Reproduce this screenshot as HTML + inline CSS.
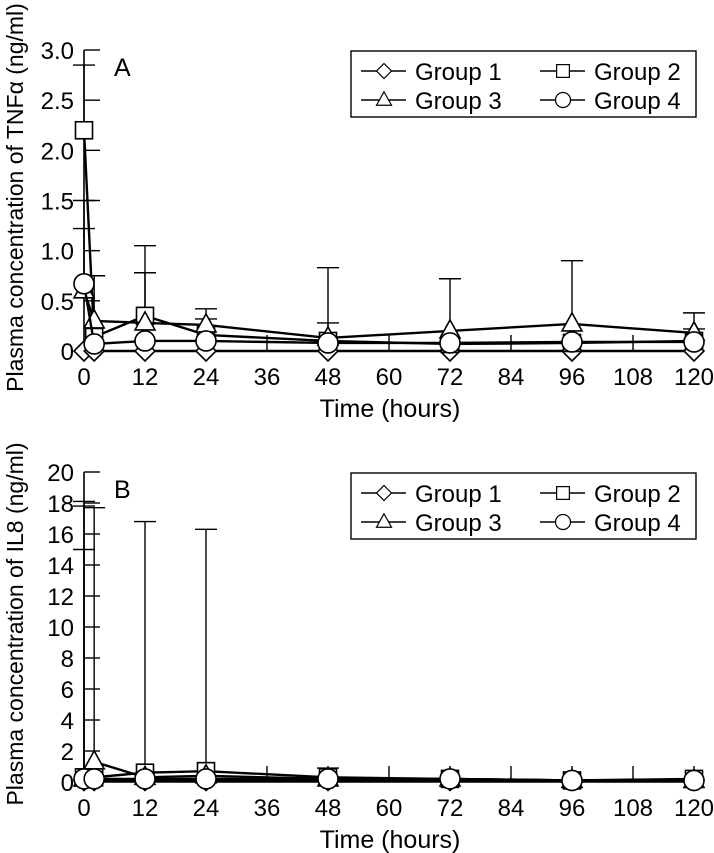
<!DOCTYPE html>
<html><head><meta charset="utf-8"><style>
html,body{margin:0;padding:0;background:#fff;}
svg{display:block;font-family:"Liberation Sans",sans-serif;}
</style></head><body>
<svg id="chart" width="714" height="853" viewBox="0 0 714 853" xmlns="http://www.w3.org/2000/svg"></svg>
<script>
const times = [0, 2, 12, 24, 48, 72, 96, 120];
const xTickLabels = [0, 12, 24, 36, 48, 60, 72, 84, 96, 108, 120];
const groupNames = ["Group 1", "Group 2", "Group 3", "Group 4"];
const markerShapes = ["diamond", "square", "triangle", "circle"];
// Panel A: TNF alpha
const aTicks = [0, 0.5, 1.0, 1.5, 2.0, 2.5, 3.0];
const aTickLabels = ["0", "0.5", "1.0", "1.5", "2.0", "2.5", "3.0"];
const aG1 = [0, 0, 0, 0, 0, 0, 0, 0];
const aG2 = [2.2, 0.14, 0.35, 0.16, 0.1, 0.07, 0.08, 0.1];
const aG3 = [0.6, 0.3, 0.28, 0.26, 0.13, 0.2, 0.27, 0.18];
const aG4 = [0.67, 0.07, 0.1, 0.1, 0.08, 0.08, 0.09, 0.09];
const aG2Err = [2.85, null, 1.05, 0.32, 0.83, 0.72, 0.9, 0.22];
const aG3Err = [1.5, 0.75, 0.78, 0.42, 0.28, null, null, 0.38];
const aG4Err = [1.22, null, null, null, null, null, null, null];
// Panel B: IL8
const bTicks = [0, 2, 4, 6, 8, 10, 12, 14, 16, 18, 20];
const bTickLabels = ["0", "2", "4", "6", "8", "10", "12", "14", "16", "18", "20"];
const bG1 = [0.1, 0.1, 0.1, 0.1, 0.1, 0.1, 0.1, 0.1];
const bG2 = [0.3, 0.3, 0.6, 0.7, 0.3, 0.2, 0.1, 0.2];
const bG3 = [0.2, 1.3, 0.3, 0.4, 0.2, 0.2, 0.1, 0.1];
const bG4 = [0.2, 0.2, 0.2, 0.2, 0.2, 0.2, 0.1, 0.1];
const bG2Err = [18.1, 17.7, 16.8, 16.3, 0.9, null, null, null];
const bG3Err = [15.0, null, null, null, null, null, null, null];
const bG4Err = [17.8, null, null, null, null, null, null, null];

const NS = "http://www.w3.org/2000/svg";
const svg = document.getElementById("chart");
function mk(tag, attrs, parent) {
  const e = document.createElementNS(NS, tag);
  for (const k in attrs) e.setAttribute(k, attrs[k]);
  (parent || svg).appendChild(e);
  return e;
}
function marker(shape, cx, cy, g) {
  let e;
  const st = {fill: "#fff", stroke: "#000", "stroke-width": 1.6};
  if (shape === "diamond") e = mk("polygon", Object.assign({points: `${cx},${cy-10} ${cx+10},${cy} ${cx},${cy+10} ${cx-10},${cy}`}, st), g);
  else if (shape === "square") e = mk("rect", Object.assign({x: cx-8.5, y: cy-8.5, width: 17, height: 17}, st), g);
  else if (shape === "triangle") e = mk("polygon", Object.assign({points: `${cx},${cy-11} ${cx+10},${cy+7} ${cx-10},${cy+7}`}, st), g);
  else e = mk("circle", Object.assign({cx: cx, cy: cy, r: 10}, st), g);
  return e;
}

function panel(cfg) {
  const x0 = 84, x1 = 694;
  const xS = t => x0 + (t / 120) * (x1 - x0);
  const yS = v => cfg.yBot - (v / cfg.yMax) * (cfg.yBot - cfg.yTop);
  const g = mk("g", {});
  
  
  const ax = mk("path", {d: `M${x0},${cfg.yTop} L${x0},${cfg.yBot} L${x1},${cfg.yBot}`, fill: "none", stroke: "#000", "stroke-width": 1.6}, g);
  
  
  cfg.ticks.forEach((v, i) => {
    mk("line", {x1: x0, x2: x0 + 16, y1: yS(v), y2: yS(v), stroke: "#000", "stroke-width": 1.4}, g);
    const t = mk("text", {x: x0 - 10, y: yS(v) + 9, "text-anchor": "end", "font-size": 24}, g);
    t.textContent = cfg.tickLabels[i];
    
    
  });
  xTickLabels.forEach(v => {
    if (v > 0) mk("line", {x1: xS(v), x2: xS(v), y1: cfg.yBot, y2: cfg.yBot - 16, stroke: "#000", "stroke-width": 1.4}, g);
    const t = mk("text", {x: xS(v), y: cfg.yBot + 34, "text-anchor": "middle", "font-size": 24}, g);
    t.textContent = v;
    
    
  });
  const xt = mk("text", {x: 390, y: cfg.yBot + 66, "text-anchor": "middle", "font-size": 25}, g);
  xt.textContent = "Time (hours)";
  
  
  const yc = (cfg.yTop + cfg.yBot) / 2 - 3;
  const yt = mk("text", {x: 0, y: 0, transform: `translate(23,${yc}) rotate(-90)`, "text-anchor": "middle", "font-size": 23}, g);
  yt.textContent = cfg.yTitle;
  
  
  const pl = mk("text", {x: 114, y: cfg.yTop + 26, "font-size": 25}, g);
  pl.textContent = cfg.label;
  
  
  cfg.errs.forEach((errArr, si) => {
    errArr.forEach((e, i) => {
      if (e === null) return;
      const x = xS(times[i]);
      const yv = yS(cfg.series[si + 1][i]);
      const eb = mk("path", {d: `M${x},${yv} L${x},${yS(e)} M${x-11},${yS(e)} L${x+11},${yS(e)}`, stroke: "#000", "stroke-width": 1.4, fill: "none"}, g);
      
      
    });
  });
  cfg.series.forEach((vals, si) => {
    const sg = mk("g", {}, g);
    
    
    const d = vals.map((v, i) => (i ? "L" : "M") + xS(times[i]) + "," + yS(v)).join(" ");
    const ln = mk("path", {d: d, fill: "none", stroke: "#000", "stroke-width": 2.4}, sg);
    
    
    vals.forEach((v, i) => {
      const m = marker(markerShapes[si], xS(times[i]), yS(v), sg);
      
      
    });
  });
  const lg = mk("g", {}, g);
  
  
  mk("rect", {x: 351, y: cfg.legTop, width: 345, height: 66, fill: "#fff", stroke: "#000", "stroke-width": 1.4}, lg);
  groupNames.forEach((n, i) => {
    const col = i % 2, row = Math.floor(i / 2);
    const lx = col ? 540 : 361, cy = cfg.legTop + 20 + row * 29;
    const eg = mk("g", {}, lg);
    
    
    mk("line", {x1: lx, x2: lx + 45, y1: cy, y2: cy, stroke: "#000", "stroke-width": 1.6}, eg);
    const mm = marker(markerShapes[i], lx + 23, cy, eg);
    mm.setAttribute('transform', `translate(${lx+23},${cy}) scale(0.75) translate(${-(lx+23)},${-cy})`);
    const t = mk("text", {x: lx + 54, y: cy + 9, "font-size": 24}, eg);
    t.textContent = n;
  });
}

panel({name: "panel-a-tnf", label: "A", yTop: 50, yBot: 351, yMax: 3, ticks: aTicks, tickLabels: aTickLabels,
  yTitle: "Plasma concentration of TNF\u03b1 (ng/ml)", legTop: 51,
  series: [aG1, aG2, aG3, aG4], errs: [aG2Err, aG3Err, aG4Err]});
panel({name: "panel-b-il8", label: "B", yTop: 472, yBot: 782, yMax: 20, ticks: bTicks, tickLabels: bTickLabels,
  yTitle: "Plasma concentration of IL8 (ng/ml)", legTop: 473,
  series: [bG1, bG2, bG3, bG4], errs: [bG2Err, bG3Err, bG4Err]});
</script>
</body></html>
